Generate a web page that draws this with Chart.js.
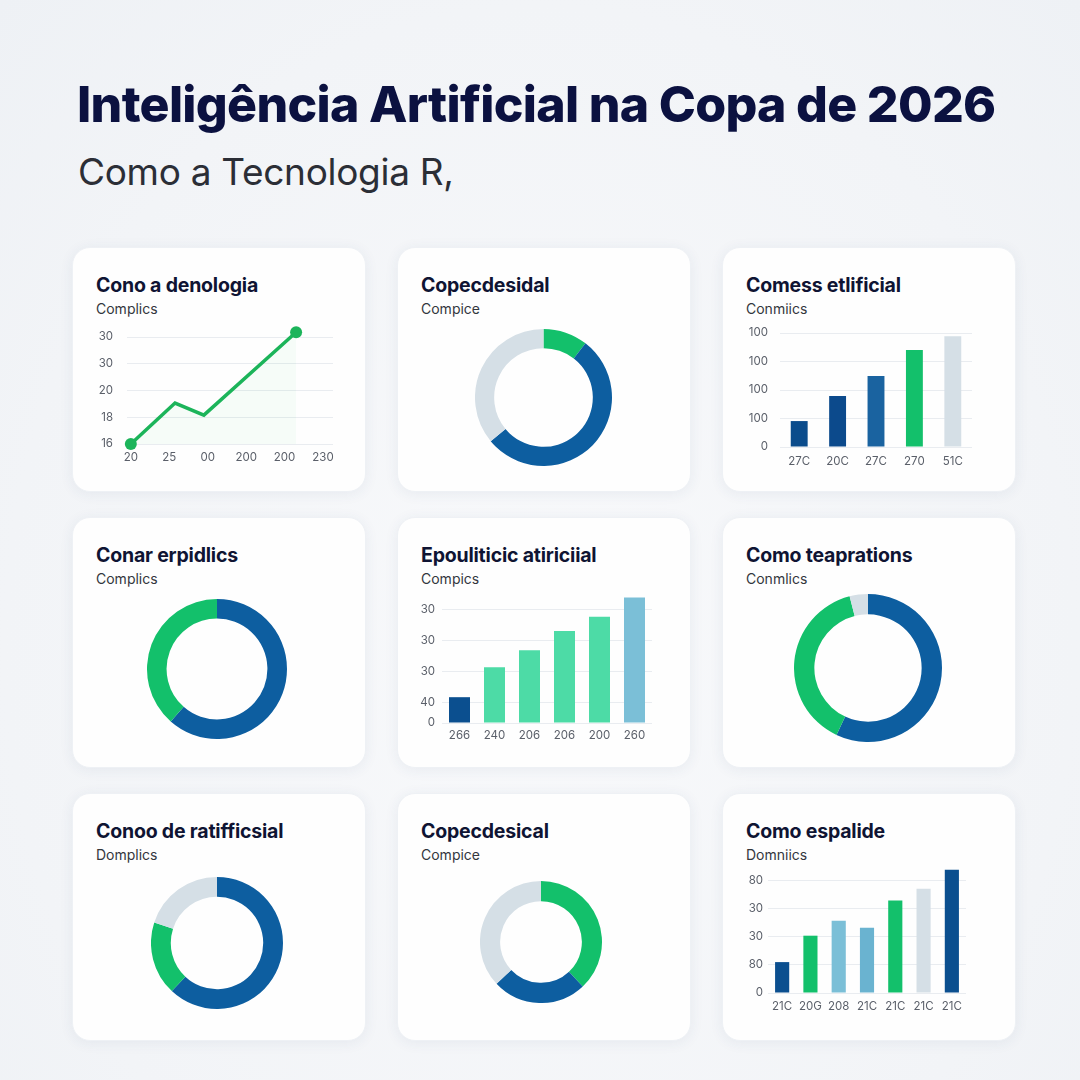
<!DOCTYPE html>
<html lang="pt">
<head>
<meta charset="utf-8">
<title>Inteligência Artificial na Copa de 2026</title>
<script src="https://cdn.jsdelivr.net/npm/chart.js@4.4.1/dist/chart.umd.min.js"></script>
<style>
  html, body { margin: 0; padding: 0; }
  body {
    width: 1080px; height: 1080px; position: relative; overflow: hidden;
    background: radial-gradient(ellipse at 50% 60%, #f8f9fb 0%, #f2f4f7 70%, #eef1f5 100%);
    font-family: Inter, "Noto Sans", sans-serif;
  }
  h1 {
    position: absolute; left: 77px; top: 72px; margin: 0;
    font-size: 50px; font-weight: 800; color: #0b1140; letter-spacing: -0.7px;
    line-height: 64px; white-space: nowrap;
  }
  .lead {
    position: absolute; left: 78px; top: 149px; margin: 0;
    font-size: 37px; font-weight: 400; color: #2b2e36; letter-spacing: -0.3px;
    line-height: 46px; white-space: nowrap;
  }
  .card {
    position: absolute; width: 294px; background: #fefefe; border-radius: 18px;
    box-shadow: 0 2px 14px rgba(40, 70, 120, 0.07); border: 1px solid #eef1f5;
    box-sizing: border-box;
  }
  .card h2 {
    position: absolute; left: 23px; top: 25px; margin: 0;
    font-size: 19.5px; font-weight: 700; color: #0f1433; letter-spacing: -0.2px;
    line-height: 24px; white-space: nowrap;
  }
  .card p {
    position: absolute; left: 23px; top: 52px; margin: 0;
    font-size: 14px; color: #33363d; line-height: 18px; white-space: nowrap;
  }
  .box { position: absolute; }
</style>
</head>
<body>
<h1>Inteligência Artificial na Copa de 2026</h1>
<div class="lead">Como a Tecnologia R,</div>
<div id="cards"></div>
<script>
// ---- data ----
const blue = '#0d5ea0';
const darkBlue = '#0b4c8c';
const green = '#13c06b';
const gray = '#d5dfe6';
const mint = '#4ddba6';
const teal = '#7bbfd7';

const cardTitles = ['Cono a denologia', 'Copecdesidal', 'Comess etlificial',
  'Conar erpidlics', 'Epouliticic atiriciial', 'Como teaprations',
  'Conoo de ratifficsial', 'Copecdesical', 'Como espalide'];
const cardSubs = ['Complics', 'Compice', 'Conmiics', 'Complics', 'Compics',
  'Conmlics', 'Domplics', 'Compice', 'Domniics'];

// line chart (card 1)
const lineXLabels = ['20', '25', '00', '200', '200', '230'];
const lineYLabels = ['16', '18', '20', '30', '30'];
const lineX = [0, 1.15, 1.9, 4.3];
const lineY = [0, 1.53, 1.08, 4.18];

// bar chart (card 3)
const barALabels = ['27C', '20C', '27C', '270', '51C'];
const barAValues = [0.91, 1.79, 2.49, 3.4, 3.89];
const barAColors = [darkBlue, '#0c4a8c', '#1a63a0', green, gray];
const barATicks = [0, 1, 2, 3, 4];
const barATickLabels = ['0', '100', '100', '100', '100'];

// bar chart (card 5)
const barBLabels = ['266', '240', '206', '206', '200', '260'];
const barBValues = [25, 54, 70.5, 89, 103, 121.6];
const barBColors = ['#0b4f8f', mint, mint, mint, mint, teal];
const barBTicks = [0, 20, 50, 80, 110];
const barBTickLabels = ['0', '40', '30', '30', '30'];

// bar chart (card 9)
const barCLabels = ['21C', '20G', '208', '21C', '21C', '21C', '21C'];
const barCValues = [1.1, 2.04, 2.57, 2.32, 3.29, 3.71, 4.39];
const barCColors = ['#0b4f8f', green, teal, '#6ab3d0', green, gray, '#0b4f8f'];
const barCTicks = [0, 1, 2, 3, 4];
const barCTickLabels = ['0', '80', '30', '30', '80'];

// doughnuts
const donut2 = [10.5, 53.5, 36];
const donut2Colors = [green, blue, gray];
const donut4 = [61.5, 38.5];
const donut4Colors = [blue, green];
const donut6 = [57, 39, 4];
const donut6Colors = [blue, green, gray];
const donut7 = [62, 18, 20];
const donut7Colors = [blue, green, gray];
const donut8 = [38, 25, 37];
const donut8Colors = [green, blue, gray];

// ---- layout ----
const cols = [72, 397, 722];
const rows = [247, 517, 793];
const heights = [245, 251, 248];

Chart.defaults.font.family = 'Inter, "Noto Sans", sans-serif';
Chart.defaults.animation = false;
Chart.defaults.plugins.legend.display = false;
Chart.defaults.plugins.tooltip.enabled = false;

const cardsEl = document.getElementById('cards');
for (let i = 0; i < 9; i++) {
  const card = document.createElement('div');
  card.className = 'card';
  card.style.left = cols[i % 3] + 'px';
  card.style.top = rows[Math.floor(i / 3)] + 'px';
  card.style.height = heights[Math.floor(i / 3)] + 'px';
  card.innerHTML = `<h2>${cardTitles[i]}</h2><p>${cardSubs[i]}</p>`;
  cardsEl.appendChild(card);
}

function makeBox(left, top, width, height) {
  const box = document.createElement('div');
  box.className = 'box';
  box.style.left = left + 'px';
  box.style.top = top + 'px';
  box.style.width = width + 'px';
  box.style.height = height + 'px';
  const canvas = document.createElement('canvas');
  box.appendChild(canvas);
  document.body.appendChild(box);
  return canvas;
}

const Y_W = 40, PAD_T = 10, PAD_R = 12, X_H = 24;

// plot = {left, right, top, bottom}; returns canvas sized so chart area matches
function cartesianCanvas(plot) {
  return makeBox(plot.left - Y_W, plot.top - PAD_T,
    Y_W + (plot.right - plot.left) + PAD_R,
    PAD_T + (plot.bottom - plot.top) + X_H);
}

function yAxis(max, tickValues, tickLabels, pad) {
  return {
    min: 0, max: max,
    border: { display: false },
    grid: { color: '#e9ecf0', drawTicks: false, lineWidth: 1 },
    ticks: {
      padding: pad, color: '#5a5f69', font: { size: 11.5 },
      callback: (v) => { const k = tickValues.indexOf(v); return k >= 0 ? tickLabels[k] : ''; }
    },
    afterBuildTicks: (axis) => { axis.ticks = tickValues.map(v => ({ value: v })); },
    afterFit: (axis) => { axis.width = Y_W; axis.paddingTop = 0; axis.paddingBottom = 0; }
  };
}

function xAfterFit(axis) { axis.height = X_H; axis.paddingLeft = 0; axis.paddingRight = 0; }

const layoutPad = { top: PAD_T, right: PAD_R, left: 0, bottom: 0 };

// card 1: line
new Chart(cartesianCanvas({ left: 127, right: 333, top: 329, bottom: 444 }), {
  type: 'line',
  data: {
    datasets: [{
      data: lineX.map((x, k) => ({ x: x, y: lineY[k] })),
      borderColor: '#1cb45a',
      borderWidth: 3.5,
      backgroundColor: 'rgba(40, 200, 110, 0.04)',
      fill: 'start',
      pointRadius: [6, 0, 0, 6],
      pointBackgroundColor: '#1cb45a',
      pointBorderWidth: 0,
      tension: 0,
      clip: false
    }]
  },
  options: {
    responsive: true, maintainAspectRatio: false,
    layout: { padding: layoutPad },
    scales: {
      x: {
        type: 'linear', min: -0.1, max: 5.26,
        border: { display: false },
        grid: { display: false, drawTicks: false },
        ticks: { padding: 7, color: '#5a5f69', font: { size: 11.5 }, callback: (v) => lineXLabels[v] ?? '' },
        afterBuildTicks: (axis) => { axis.ticks = lineXLabels.map((_, k) => ({ value: k })); },
        afterFit: xAfterFit
      },
      y: yAxis(4.3, [0, 1, 2, 3, 4], lineYLabels, 14)
    }
  }
});

function barChart(plot, labels, values, colors, max, tickValues, tickLabels, yPad, xPad, barPct) {
  new Chart(cartesianCanvas(plot), {
    type: 'bar',
    data: {
      labels: labels,
      datasets: [{ data: values, backgroundColor: colors, borderWidth: 0,
        barPercentage: barPct, categoryPercentage: 1 }]
    },
    options: {
      responsive: true, maintainAspectRatio: false,
      layout: { padding: layoutPad },
      scales: {
        x: {
          border: { display: false },
          grid: { display: false, drawTicks: false },
          ticks: { padding: xPad, color: '#5a5f69', font: { size: 11.5 }, maxRotation: 0 },
          afterFit: xAfterFit
        },
        y: yAxis(max, tickValues, tickLabels, yPad)
      }
    }
  });
}

barChart({ left: 780, right: 972, top: 333, bottom: 447 }, barALabels, barAValues, barAColors,
  4, barATicks, barATickLabels, 12, 8, 0.44);
barChart({ left: 442, right: 652, top: 596, bottom: 723 }, barBLabels, barBValues, barBColors,
  123, barBTicks, barBTickLabels, 7, 6, 0.6);
barChart({ left: 768, right: 966, top: 868, bottom: 993 }, barCLabels, barCValues, barCColors,
  4.45, barCTicks, barCTickLabels, 5, 7, 0.5);

function donut(cx, cy, r, values, colors, cutout) {
  const canvas = makeBox(cx - r, cy - r, 2 * r, 2 * r);
  new Chart(canvas, {
    type: 'doughnut',
    data: { datasets: [{ data: values, backgroundColor: colors, borderWidth: 0 }] },
    options: {
      responsive: true, maintainAspectRatio: false,
      cutout: cutout,
      layout: { padding: 0 }
    }
  });
}

donut(543, 397, 68.5, donut2, donut2Colors, '72%');
donut(217, 669, 70, donut4, donut4Colors, '72%');
donut(868, 668, 74, donut6, donut6Colors, '72.5%');
donut(217, 943, 66, donut7, donut7Colors, '70%');
donut(541, 942, 61, donut8, donut8Colors, '67%');
</script>
</body>
</html>
